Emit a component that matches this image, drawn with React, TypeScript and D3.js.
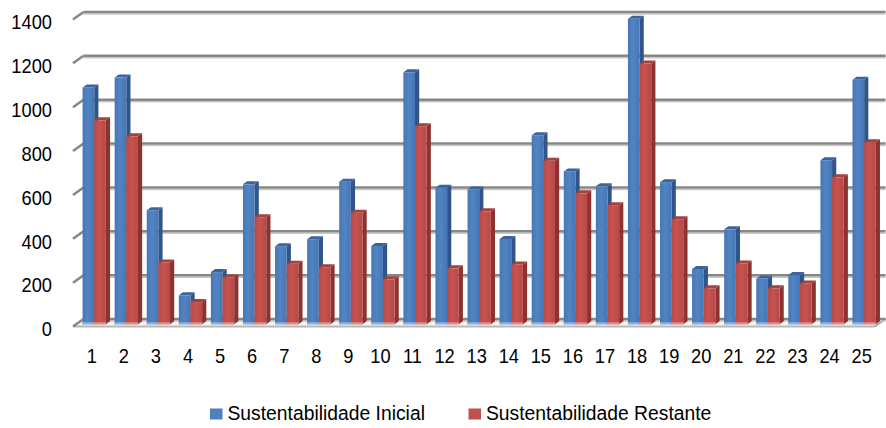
import * as d3 from "d3";

const categories = ["1", "2", "3", "4", "5", "6", "7", "8", "9", "10", "11", "12", "13", "14", "15", "16", "17", "18", "19", "20", "21", "22", "23", "24", "25"];
const inicial = [1080, 1125, 520, 132, 238, 638, 356, 388, 650, 357, 1149, 623, 614, 389, 862, 697, 629, 1393, 648, 252, 433, 209, 225, 748, 1115];
const restante = [930, 857, 282, 101, 213, 488, 276, 260, 509, 205, 903, 255, 515, 273, 746, 597, 543, 1189, 479, 164, 277, 164, 186, 670, 830];
const yTicks = [0, 200, 400, 600, 800, 1000, 1200, 1400];
const seriesNames = ["Sustentabilidade Inicial", "Sustentabilidade Restante"];

const WIDTH = 886;
const HEIGHT = 428;
const FONT = "'Liberation Sans', Arial, sans-serif";

// simple oblique projection for the 3D look
const X0 = 73;
const W = 802;
const Y0 = 326.5;
const DX = 10.5;
const DY = 7.5;

const SERIES = [
  { values: inicial, front: "url(#gBlue)", side: "#2f5687", top: "#3a649b", base: "#8fb0dc" },
  { values: restante, front: "url(#gRed)", side: "#8c3331", top: "#a5413e", base: "#dc8f8d" },
];
const LEGEND_COLORS = ["#4f81bd", "#c0504d"];

// the original uses a narrow face, so squeeze the glyphs a bit
function Txt(props: { x: number; y: number; anchor?: string; sx?: number; size?: number; children: any; dy?: string }) {
  const { x, y, anchor = "start", sx = 0.87, size = 21, children, dy } = props;
  return (
    <text transform={`translate(${x},${y}) scale(${sx},1)`} textAnchor={anchor} fontSize={size} dy={dy} fill="#000">
      {children}
    </text>
  );
}

export default function App() {
  const y = d3.scaleLinear().domain([0, 1400]).range([Y0, Y0 - 307]);
  const x = d3.scaleBand<string>().domain(categories).range([X0, X0 + W]);
  const bw = x.bandwidth();
  const barW = bw * 0.363;
  const offset = bw * 0.2;

  const proj = (px: number, v: number, d: number): [number, number] => [px + d * DX, y(v) - d * DY];
  const pts = (arr: [number, number][]) => arr.map((p) => p.join(",")).join(" ");

  const d0 = 0.3;
  const d1 = 0.7;

  return (
    <svg width={WIDTH} height={HEIGHT} style={{ position: "absolute", left: 0, top: 0, background: "#fff" }} fontFamily={FONT}>
      <defs>
        <linearGradient id="gBlue" x1="0" x2="1" y1="0" y2="0">
          <stop offset="0" stopColor="#4677b6" />
          <stop offset="0.45" stopColor="#5384c2" />
          <stop offset="1" stopColor="#4576b5" />
        </linearGradient>
        <linearGradient id="gRed" x1="0" x2="1" y1="0" y2="0">
          <stop offset="0" stopColor="#b94a47" />
          <stop offset="0.45" stopColor="#c5534f" />
          <stop offset="1" stopColor="#b84946" />
        </linearGradient>
      </defs>

      {/* floor */}
      <polygon
        points={pts([proj(X0, 0, 0), proj(X0 + W, 0, 0), proj(X0 + W, 0, 1), proj(X0, 0, 1)])}
        fill="#f4f4f4"
        stroke="none"
      />
      <line x1={proj(X0, 0, 0)[0]} y1={proj(X0, 0, 0)[1]} x2={proj(X0 + W, 0, 0)[0]} y2={proj(X0 + W, 0, 0)[1]} stroke="#b8b8b8" strokeWidth={2} />
      <line x1={proj(X0 + W, 0, 0)[0]} y1={proj(X0 + W, 0, 0)[1]} x2={proj(X0 + W, 0, 1)[0]} y2={proj(X0 + W, 0, 1)[1]} stroke="#a8a8a8" strokeWidth={2} />

      {/* gridlines on the back wall */}
      {yTicks.map((t) => {
        const a = proj(X0, t, 0);
        const b = proj(X0, t, 1);
        const c = proj(X0 + W, t, 1);
        return (
          <g key={t}>
            <line x1={b[0]} y1={b[1] + 2} x2={c[0]} y2={c[1] + 2} stroke="#c9c9c9" strokeWidth={1.5} />
            <line x1={b[0]} y1={b[1]} x2={c[0]} y2={c[1]} stroke="#878787" strokeWidth={2.5} />
            <line x1={a[0]} y1={a[1]} x2={b[0]} y2={b[1]} stroke="#878787" strokeWidth={2.5} />
            <Txt x={52} y={a[1] + 2.5} anchor="end" dy="0.35em">
              {t}
            </Txt>
          </g>
        );
      })}

      {/* bars */}
      {categories.map((c, i) => (
        <g key={c}>
          {SERIES.map((s, j) => {
            const v = s.values[i];
            const L = (x(c) ?? 0) + offset + j * barW;
            const R = L + barW;
            const ft = proj(L, v, d0);
            const fb = proj(R, 0, d0);
            return (
              <g key={j}>
                <polygon points={pts([proj(R, v, d0), proj(R, v, d1), proj(R, 0, d1), proj(R, 0, d0)])} fill={s.side} />
                <polygon points={pts([proj(L, v, d0), proj(R, v, d0), proj(R, v, d1), proj(L, v, d1)])} fill={s.top} />
                <rect x={ft[0]} y={ft[1]} width={fb[0] - ft[0]} height={fb[1] - ft[1]} fill={s.front} />
                <rect x={ft[0]} y={fb[1] - 2} width={fb[0] - ft[0]} height={2} fill={s.base} />
              </g>
            );
          })}
        </g>
      ))}

      {/* category labels */}
      {categories.map((c) => (
        <Txt key={c} x={(x(c) ?? 0) + bw / 2 + 2.7} y={362.5} anchor="middle">
          {c}
        </Txt>
      ))}

      {/* legend */}
      {seriesNames.map((name, i) => {
        const lx = i === 0 ? 210 : 468.5;
        return (
          <g key={name}>
            <rect x={lx} y={408.5} width={12.5} height={11} fill={LEGEND_COLORS[i]} />
            <Txt x={lx + 17.5} y={419.5} sx={0.92}>
              {name}
            </Txt>
          </g>
        );
      })}
    </svg>
  );
}
